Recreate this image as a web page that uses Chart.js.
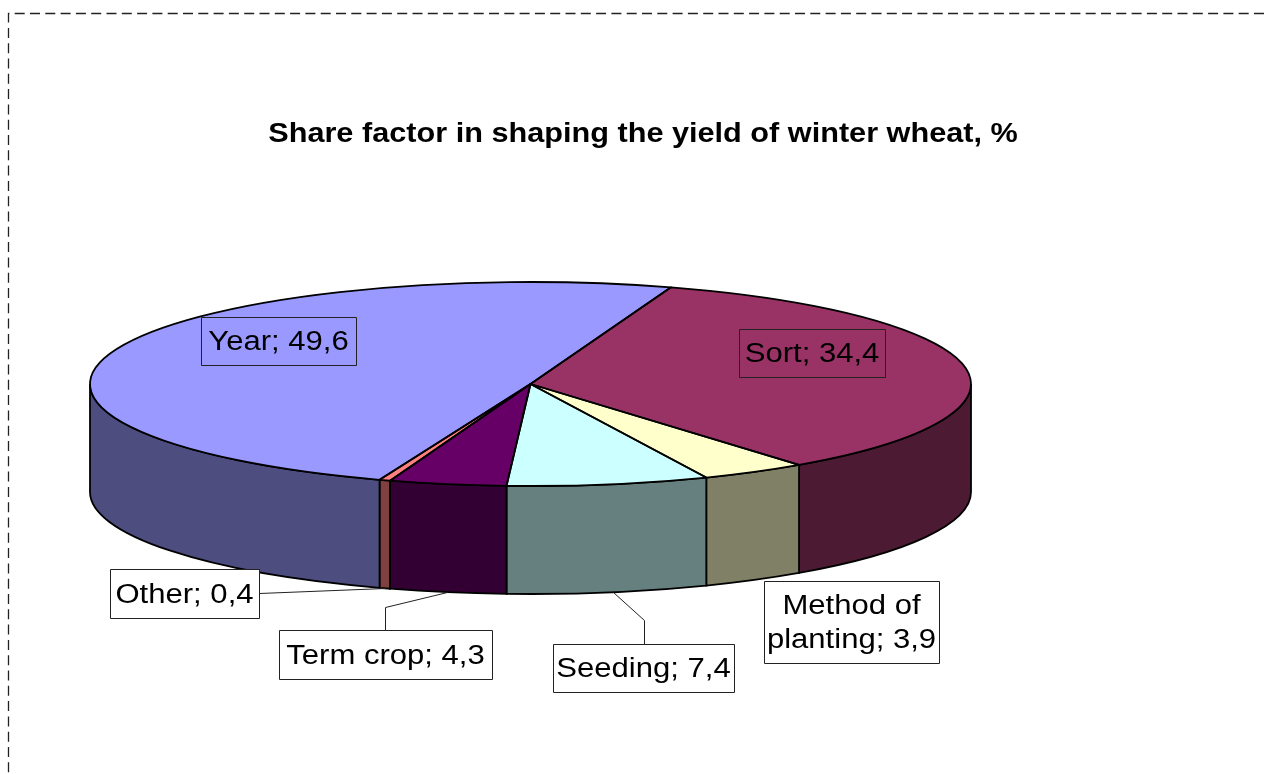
<!DOCTYPE html>
<html>
<head>
<meta charset="utf-8">
<title>Share factor in shaping the yield of winter wheat</title>
<style>
  html, body { margin: 0; padding: 0; background: #fff; }
  canvas { display: block; }
</style>
<script src="https://cdn.jsdelivr.net/npm/chart.js@4"></script>
</head>
<body>
<canvas id="chart" width="1264" height="774"></canvas>
<script>
const TITLE = 'Share factor in shaping the yield of winter wheat, %';
const categories = ['Sort', 'Method of planting', 'Seeding', 'Term crop', 'Other', 'Year'];
const values = [34.4, 3.9, 7.4, 4.3, 0.4, 49.6];
const topColors = ['#993366', '#FFFFCC', '#CCFFFF', '#660066', '#FF8080', '#9999FF'];
const sideColors = ['#4D1A33', '#808066', '#668080', '#330033', '#804040', '#4D4D80'];

// Excel style 3D pie: where the flattened disc goes on the page
const PIE = { cx: 530.5, cy: 384, rx: 440.5, ry: 102, depth: 108 };
const FONT = '27px "Liberation Sans", Arial, sans-serif';
const TITLE_FONT = 'bold 28px "Liberation Sans", Arial, sans-serif';

// label boxes, same order as categories
const labelBoxes = [
  { x: 739, y: 329, w: 146, h: 48, lines: 1 },
  { x: 764, y: 581, w: 175, h: 82, lines: 2, fill: '#fff' },
  { x: 553, y: 644, w: 181, h: 48, lines: 1, fill: '#fff' },
  { x: 279, y: 630, w: 213, h: 49, lines: 1, fill: '#fff' },
  { x: 110, y: 569, w: 149, h: 49, lines: 1, fill: '#fff' },
  { x: 201, y: 317, w: 155, h: 48, lines: 1 },
];
const leaderLines = [
  [[259, 593], [385, 588]],
  [[385, 630], [385, 607], [447, 592]],
  [[644, 644], [644, 620], [613, 592]],
];

function labelLines(i) {
  const val = String(values[i]).replace('.', ',');
  if (labelBoxes[i].lines === 2) {
    const words = categories[i].split(' ');
    return [words.slice(0, 2).join(' '), `${words[2]}; ${val}`];
  }
  return [`${categories[i]}; ${val}`];
}

// the reference text is wider than plain Arial
function wideText(ctx, text, x, y, stretch) {
  ctx.save();
  ctx.translate(x, y);
  ctx.scale(stretch, 1);
  ctx.fillText(text, 0, 0);
  ctx.restore();
}

function drawFrame(ctx) {
  ctx.save();
  ctx.strokeStyle = '#222';
  ctx.lineWidth = 1.3;
  ctx.setLineDash([10, 5.3]);
  ctx.beginPath();
  ctx.moveTo(1264, 13.5);
  ctx.lineTo(8.5, 13.5);
  ctx.lineTo(8.5, 774);
  ctx.stroke();
  ctx.restore();
}

function drawTitle(ctx) {
  ctx.save();
  ctx.font = TITLE_FONT;
  ctx.fillStyle = '#000';
  ctx.textAlign = 'center';
  ctx.textBaseline = 'alphabetic';
  wideText(ctx, TITLE, 643, 142, 1.095);
  ctx.restore();
}

function drawWalls(ctx, arcs) {
  const { cx, cy, rx, ry, depth } = PIE;
  arcs.forEach((arc, i) => {
    // only the front half of the rim can be seen
    const a0 = Math.max(arc.startAngle, 0);
    const a1 = Math.min(arc.endAngle, Math.PI);
    if (a1 <= a0) return;
    ctx.beginPath();
    ctx.ellipse(cx, cy, rx, ry, 0, a0, a1);
    ctx.ellipse(cx, cy + depth, rx, ry, 0, a1, a0, true);
    ctx.closePath();
    ctx.fillStyle = sideColors[i];
    ctx.fill();
    ctx.strokeStyle = '#000';
    ctx.lineWidth = 1.8;
    ctx.stroke();
  });
}

function drawTopOutlines(ctx, arcs) {
  const { cx, cy, rx, ry } = PIE;
  ctx.strokeStyle = '#000';
  ctx.lineWidth = 1.8;
  ctx.lineJoin = 'round';
  arcs.forEach(arc => {
    ctx.beginPath();
    ctx.moveTo(cx, cy);
    ctx.ellipse(cx, cy, rx, ry, 0, arc.startAngle, arc.endAngle);
    ctx.closePath();
    ctx.stroke();
  });
}

function drawLabels(ctx) {
  ctx.save();
  ctx.lineWidth = 1;
  ctx.strokeStyle = '#222';
  leaderLines.forEach(pts => {
    ctx.beginPath();
    pts.forEach(([x, y], k) => (k ? ctx.lineTo(x + 0.5, y + 0.5) : ctx.moveTo(x + 0.5, y + 0.5)));
    ctx.stroke();
  });
  ctx.font = FONT;
  ctx.textAlign = 'center';
  ctx.textBaseline = 'middle';
  labelBoxes.forEach((box, i) => {
    if (box.fill) {
      ctx.fillStyle = box.fill;
      ctx.fillRect(box.x, box.y, box.w, box.h);
    }
    ctx.strokeStyle = '#222';
    ctx.strokeRect(box.x + 0.5, box.y + 0.5, box.w, box.h);
    ctx.fillStyle = '#000';
    const lines = labelLines(i);
    const lineH = 34;
    const y0 = box.y + box.h / 2 + 2 - (lines.length - 1) * lineH / 2;
    lines.forEach((t, k) => wideText(ctx, t, box.x + box.w / 2, y0 + k * lineH, 1.15));
  });
  ctx.restore();
}

const pie3d = {
  id: 'pie3d',
  beforeDatasetsDraw(chart) {
    const ctx = chart.ctx;
    const arcs = chart.getDatasetMeta(0).data;
    drawFrame(ctx);
    drawTitle(ctx);
    drawWalls(ctx, arcs);
    // the library draws the slices, squashed onto the ellipse
    const r = arcs[0].outerRadius;
    ctx.save();
    ctx.translate(PIE.cx, PIE.cy);
    ctx.scale(PIE.rx / r, PIE.ry / r);
    ctx.translate(-arcs[0].x, -arcs[0].y);
  },
  afterDatasetsDraw(chart) {
    const ctx = chart.ctx;
    ctx.restore();
    drawTopOutlines(ctx, chart.getDatasetMeta(0).data);
    drawLabels(ctx);
  },
};

new Chart(document.getElementById('chart'), {
  type: 'pie',
  data: {
    labels: categories,
    datasets: [{
      data: values,
      backgroundColor: topColors,
      borderWidth: 0,
      clip: false,
    }],
  },
  options: {
    responsive: false,
    animation: false,
    rotation: 18.6,
    plugins: {
      legend: { display: false },
      tooltip: { enabled: false },
    },
  },
  plugins: [pie3d],
});
</script>
</body>
</html>
